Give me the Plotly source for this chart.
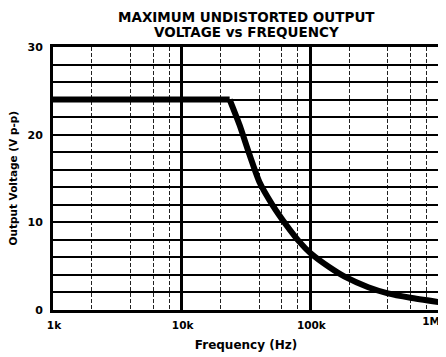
import plotly.graph_objects as go

# Data
freq_hz = [1000, 23600, 28200, 33700, 40200, 50700, 65000, 82000, 100000,
           140000, 185000, 282000, 401000, 600000, 1000000]
vout_vpp = [24.0, 24.0, 21.1, 17.7, 14.6, 12.0, 9.7, 7.8, 6.5,
            4.9, 3.8, 2.6, 1.9, 1.4, 0.9]

x_tick_vals = [1e3, 1e4, 1e5]
x_tick_text = ["1k", "10k", "100k"]
x_end_tick_vals = [1e6]
x_end_tick_text = ["1M"]
x_minor_vals = [m * d for d in (1e3, 1e4, 1e5) for m in (2, 4, 6, 8)]
y_tick_vals = [0, 10, 20, 30]
y_minor_vals = list(range(0, 31, 2))

title_lines = ["MAXIMUM UNDISTORTED OUTPUT", "VOLTAGE vs FREQUENCY"]
x_title = "Frequency (Hz)"
y_title = "Output Voltage (V p-p)"

FONT = "DejaVu Sans, Arial, sans-serif"

fig = go.Figure()
# flat part (sharp knee)
fig.add_trace(go.Scatter(
    x=freq_hz[:2], y=vout_vpp[:2], mode="lines",
    line=dict(color="black", width=6),
    hoverinfo="skip", showlegend=False,
))
# roll-off part (drawn on the overlaying copy of the same log axis)
fig.add_trace(go.Scatter(
    x=freq_hz[1:], y=vout_vpp[1:], mode="lines", xaxis="x2",
    line=dict(color="black", width=6, shape="spline", smoothing=0.5),
    hoverinfo="skip", showlegend=False,
))

title_shifts = [30.5, 15]

# The page body keeps its default 8px margin, so the figure is sized to fit
# the 446x357 window from that offset.
fig.update_layout(
    width=438, height=349,
    margin=dict(l=45, r=7, t=39, b=47),
    paper_bgcolor="white", plot_bgcolor="white",
    font=dict(family=FONT, color="black", size=11),
    xaxis=dict(
        type="log", range=[3, 6], automargin=False,
        tickvals=x_tick_vals, ticktext=["<b>%s</b>" % t for t in x_tick_text],
        ticklabeloverflow="allow", ticklabelshift=1,
        showgrid=True, gridcolor="black", gridwidth=2.5,
        minor=dict(tickvals=x_minor_vals, showgrid=True, gridcolor="#222",
                   gridwidth=1, griddash="4px,2px", ticks=""),
        showline=True, linecolor="black", linewidth=3, mirror=True,
        ticks="", zeroline=False, ticklabelstandoff=3,
        title=dict(text="<b>%s</b>" % x_title, standoff=12, font=dict(size=12)),
        tickfont=dict(size=10.5),
    ),
    xaxis2=dict(
        type="log", range=[3, 6], automargin=False, overlaying="x", side="bottom",
        anchor="y",
        tickvals=x_end_tick_vals, ticktext=["<b>%s</b>" % t for t in x_end_tick_text],
        ticklabelposition="outside left", ticklabeloverflow="allow", ticklabelshift=1,
        showgrid=False, showline=False, ticks="", zeroline=False, ticklabelstandoff=3,
        tickfont=dict(size=10.5),
    ),
    yaxis=dict(
        range=[0, 30], automargin=False,
        tickvals=y_tick_vals, ticktext=["<b>%d</b>" % v for v in y_tick_vals],
        showgrid=True, gridcolor="black", gridwidth=2,
        minor=dict(tickvals=y_minor_vals, showgrid=True, gridcolor="black",
                   gridwidth=1.5, ticks=""),
        showline=True, linecolor="black", linewidth=3, mirror=True,
        ticks="", zeroline=False, ticklabelstandoff=5,
        tickfont=dict(size=11),
    ),
    annotations=[dict(
        text="<b>%s</b>" % line,
        xref="paper", yref="paper", x=0.5, y=1, xanchor="center", yanchor="middle",
        yshift=shift, showarrow=False, align="center",
        font=dict(family=FONT, size=13.5, color="black"),
    ) for line, shift in zip(title_lines, title_shifts)] + [dict(
        text="<b>%s</b>" % y_title, textangle=-90,
        xref="paper", yref="paper", x=0, y=0.5, xanchor="center", yanchor="middle",
        xshift=-41, showarrow=False,
        font=dict(family=FONT, size=10.5, color="black"),
    )],
)

fig.write_html("out.html")
